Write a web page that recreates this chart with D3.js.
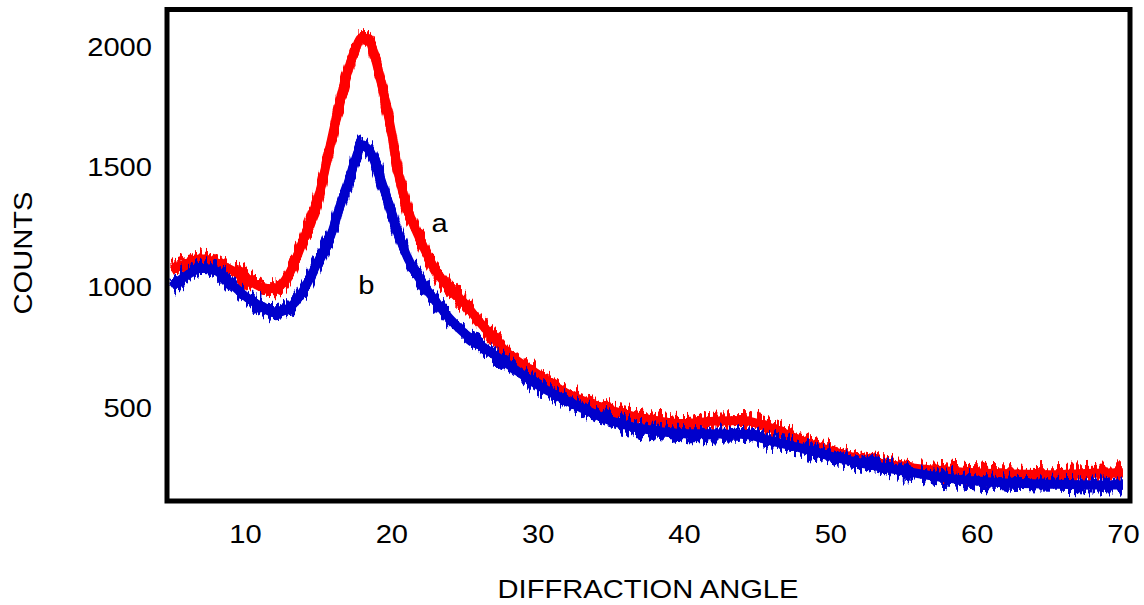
<!DOCTYPE html>
<html>
<head>
<meta charset="utf-8">
<script src="https://cdn.jsdelivr.net/npm/d3@7"></script>
<style>
  body { margin: 0; background: #fff; }
  text { font-family: "Liberation Sans", Arial, sans-serif; fill: #000; }
</style>
</head>
<body>
<div id="graph"></div>
<script>
// diffraction angle (deg) and counts for the two samples
const angles  = [5, 6, 7, 8, 9, 10, 11, 12, 13, 14, 15, 16, 16.5, 17, 17.5, 18, 18.5, 19, 19.5, 20, 20.5, 21, 22, 23, 24, 25, 26, 28, 30, 32, 35, 38, 40, 42, 44, 46, 48, 50, 52, 55, 58, 60, 62, 65, 68, 70];
const countsA = [1075, 1100, 1120, 1105, 1075, 1045, 1005, 995, 1055, 1200, 1370, 1640, 1775, 1895, 1985, 2040, 2025, 1930, 1800, 1650, 1470, 1350, 1195, 1075, 995, 935, 860, 725, 640, 560, 490, 448, 435, 445, 448, 415, 365, 322, 288, 255, 238, 230, 226, 222, 228, 230];
const countsB = [1005, 1050, 1080, 1070, 1020, 965, 925, 895, 915, 990, 1110, 1240, 1340, 1425, 1525, 1590, 1570, 1500, 1410, 1310, 1220, 1140, 1030, 945, 870, 810, 765, 680, 595, 530, 447, 405, 393, 392, 390, 362, 333, 300, 272, 238, 208, 196, 188, 183, 180, 180];
const xTicks = [10, 20, 30, 40, 50, 60, 70];
const yTicks = [500, 1000, 1500, 2000];
const seriesLabels = [{name: "a", x: 23.3, y: 1230}, {name: "b", x: 18.3, y: 975}];

const width = 1144, height = 605;
const frameLeft = 167, frameRight = 1130, frameTop = 9.5, frameBottom = 501;

const svg = d3.select("#graph").append("svg")
    .attr("width", width)
    .attr("height", height);

const xScale = d3.scaleLinear().domain([4.67, 70.48]).range([frameLeft, frameRight]);
const yScale = d3.scaleLinear().domain([113, 2156]).range([frameBottom, frameTop]);

// stretch text a little wider, the original lettering is broad
const stretch = sel => sel.each(function() {
  const w = this.getComputedTextLength();
  d3.select(this).attr("textLength", w * 1.12).attr("lengthAdjust", "spacingAndGlyphs");
});

const defs = svg.append("defs");
defs.append("clipPath").attr("id", "plotclip")
  .append("rect")
    .attr("x", frameLeft + 2).attr("y", frameTop + 2)
    .attr("width", frameRight - frameLeft - 4).attr("height", frameBottom - frameTop - 4);

// ragged edge for the noisy detector traces (two filters, different seeds)
[["jitter1", 3], ["jitter2", 11]].forEach(([id, seed]) => {
  const f = defs.append("filter").attr("id", id)
      .attr("filterUnits", "userSpaceOnUse")
      .attr("x", 0).attr("y", 0).attr("width", width).attr("height", height);
  f.append("feTurbulence")
      .attr("type", "fractalNoise")
      .attr("baseFrequency", "0.35 0.04")
      .attr("numOctaves", 1)
      .attr("seed", seed)
      .attr("result", "t");
  f.append("feColorMatrix")
      .attr("in", "t")
      .attr("type", "matrix")
      .attr("values", "0 0 0 0 0.5  1 0 0 0 0  0 0 0 0 0  0 0 0 0 1")
      .attr("result", "m");
  f.append("feDisplacementMap")
      .attr("in", "SourceGraphic")
      .attr("in2", "m")
      .attr("scale", 34)
      .attr("xChannelSelector", "R")
      .attr("yChannelSelector", "G");
});

const line = d3.line()
    .x((d, i) => xScale(angles[i]))
    .y(d => yScale(d))
    .curve(d3.curveMonotoneX);

const plot = svg.append("g").attr("clip-path", "url(#plotclip)");

const series = [
  {values: countsA, color: "#ff0000"},
  {values: countsB, color: "#0000cc"}
];

series.forEach(s => {
  // solid core of the trace
  plot.append("path")
      .datum(s.values)
      .attr("d", line)
      .attr("fill", "none")
      .attr("stroke", s.color)
      .attr("stroke-width", 9);
  // ragged noise around it
  ["jitter1", "jitter2"].forEach(id => {
    plot.append("path")
        .datum(s.values)
        .attr("d", line)
        .attr("fill", "none")
        .attr("stroke", s.color)
        .attr("stroke-width", 9)
        .attr("filter", `url(#${id})`);
  });
});

// frame
svg.append("rect")
    .attr("x", frameLeft).attr("y", frameTop)
    .attr("width", frameRight - frameLeft).attr("height", frameBottom - frameTop)
    .attr("fill", "none")
    .attr("stroke", "#000")
    .attr("stroke-width", 5);

// axes: labels only, no tick marks
const xAxis = svg.append("g")
    .attr("transform", `translate(0, ${frameBottom})`)
    .call(d3.axisBottom(xScale).tickValues(xTicks).tickFormat(d3.format("d")).tickSize(0).tickPadding(24));
xAxis.select(".domain").remove();
xAxis.selectAll("text")
    .attr("font-size", "26px")
    .attr("font-family", null)
    .call(stretch);

const yAxis = svg.append("g")
    .attr("transform", `translate(${frameLeft}, 0)`)
    .call(d3.axisLeft(yScale).tickValues(yTicks).tickFormat(d3.format("d")).tickSize(0).tickPadding(15));
yAxis.select(".domain").remove();
yAxis.selectAll("text")
    .attr("font-size", "26px")
    .attr("font-family", null)
    .call(stretch);

svg.selectAll(".series-label")
    .data(seriesLabels)
    .enter().append("text")
    .attr("class", "series-label")
    .attr("x", d => xScale(d.x))
    .attr("y", d => yScale(d.y))
    .attr("text-anchor", "middle")
    .attr("font-size", "26px")
    .text(d => d.name)
    .call(stretch);

svg.append("text")
    .attr("x", 648)
    .attr("y", 598)
    .attr("text-anchor", "middle")
    .attr("font-size", "26px")
    .text("DIFFRACTION ANGLE")
    .call(stretch);

svg.append("text")
    .attr("transform", "rotate(-90)")
    .attr("x", -253)
    .attr("y", 32)
    .attr("text-anchor", "middle")
    .attr("font-size", "26px")
    .text("COUNTS")
    .call(stretch);
</script>
</body>
</html>
